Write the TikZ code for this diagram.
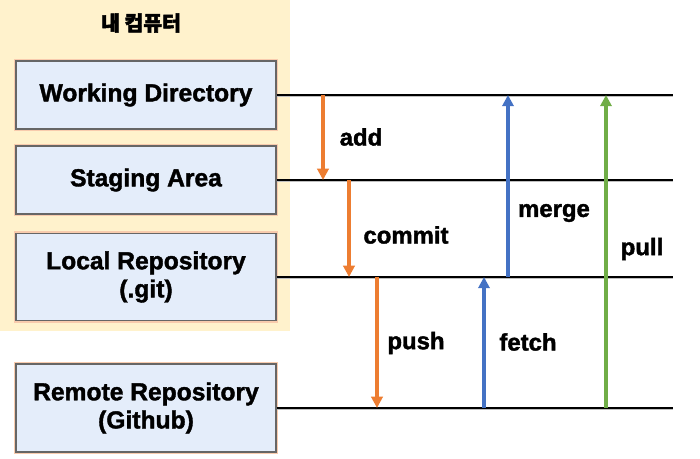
\documentclass[tikz,border=0pt]{standalone}
\usepackage{fontspec}
\setmainfont{Liberation Sans}
\newfontfamily\heavy[FakeBold=1.6]{Liberation Sans Bold}
\newfontfamily\kofont[BoldFeatures={FakeBold=2.5}]{Noto Sans CJK KR}
\usepackage{tikz}
\usetikzlibrary{arrows.meta,positioning}

\definecolor{cream}{HTML}{FFF2CC}
\definecolor{boxblue}{HTML}{E4EDFA}
\definecolor{gitorange}{HTML}{ED7D31}
\definecolor{gitblue}{HTML}{4472C4}
\definecolor{gitgreen}{HTML}{70AD47}

\begin{document}
\begin{tikzpicture}[x=0.025cm,y=-0.025cm]
		\tikzstyle{repo}=[draw=black!60, line width=0.9pt, fill=boxblue, minimum width=6.5cm, align=center, font=\heavy\fontsize{17.5}{20}\selectfont, preaction={draw=gitorange!40, line width=3pt}]
		\tikzstyle{level}=[line width=1.4pt, preaction={draw=black!25, line width=1.4pt, transform canvas={yshift=-1pt}}]
		\tikzstyle{gitarrow}=[line width=2.2pt, -{Triangle[length=8pt,width=8pt]}]
		\tikzstyle{cmd}=[font=\heavy\fontsize{17}{20}\selectfont]

		\useasboundingbox (0,0) rectangle (700,459);
		\fill[cream] (0,0) rectangle (290,331);
		\node [font=\kofont\bfseries\fontsize{14.5}{16}\selectfont] (title) at (141,23) {내 컴퓨터};

		\node [repo, minimum height=1.7cm] (wd) at (146,95) {Working Directory};
		\node [repo, minimum height=1.7cm] (sa) at (146,180) {Staging Area};
		\node [repo, minimum height=2.17cm] (local) at (146,277) {Local Repository\\(.git)};
		\node [repo, minimum height=2.2cm] (remote) at (146,408) {Remote Repository\\(Github)};

		\coordinate (rim) at (673,0);
		\draw [level] (wd.east) -- (wd.east -| rim);
		\draw [level] (sa.east) -- (sa.east -| rim);
		\draw [level] (local.east) -- (local.east -| rim);
		\draw [level] (remote.east) -- (remote.east -| rim);

		\coordinate (addx) at (323,0);
		\coordinate (commitx) at (349,0);
		\coordinate (pushx) at (377,0);
		\coordinate (fetchx) at (484,0);
		\coordinate (mergex) at (508,0);
		\coordinate (pullx) at (606,0);

		\draw [gitarrow, gitorange] (addx |- wd.east) -- (addx |- sa.east);
		\draw [gitarrow, gitorange] (commitx |- sa.east) -- (commitx |- local.east);
		\draw [gitarrow, gitorange] (pushx |- local.east) -- (pushx |- remote.east);
		\draw [gitarrow, gitblue] (fetchx |- remote.east) -- (fetchx |- local.east);
		\draw [gitarrow, gitblue] (mergex |- local.east) -- (mergex |- wd.east);
		\draw [gitarrow, gitgreen] (pullx |- remote.east) -- (pullx |- wd.east);

		\node [cmd] (add) at (361,137) {add};
		\node [cmd] (commit) at (406,235) {commit};
		\node [cmd] (push) at (416,343) {push};
		\node [cmd] (fetch) at (528,342) {fetch};
		\node [cmd] (merge) at (554,213) {merge};
		\node [cmd] (pull) at (642,249) {pull};
	\end{tikzpicture}
\end{document}
